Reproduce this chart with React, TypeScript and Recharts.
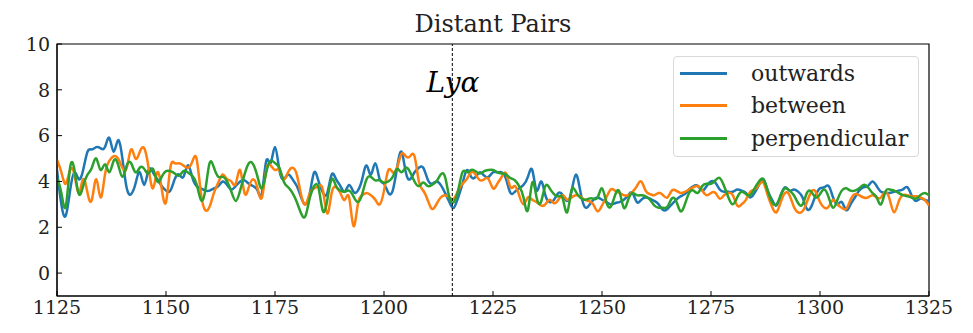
import React from 'react';
import {
  LineChart,
  Line,
  XAxis,
  YAxis,
  ReferenceLine,
  ReferenceArea,
  ReferenceDot,
} from 'recharts';

// rest-frame wavelength grid, 1 Å steps from 1125 to 1325
const startWavelength = 1125;

const outwards = [
  4.5, 3.0, 2.5, 3.6, 4.4, 4.1, 4.5, 5.3, 5.4, 5.5,
  5.45, 5.5, 5.9, 5.3, 5.8, 5.0, 3.7, 3.45, 3.9, 4.4,
  3.85, 4.5, 4.4, 4.1, 3.8, 3.6, 3.6, 4.1, 4.3, 4.2,
  4.7, 4.2, 3.8, 3.7, 3.6, 3.6, 3.7, 3.8, 4.0, 3.85,
  3.65, 3.8, 4.0, 4.05, 3.9, 3.8, 3.6, 3.5, 4.9, 4.8,
  5.5, 4.5, 4.1, 4.3, 4.1, 3.8, 3.3, 3.0, 3.5, 4.4,
  4.0, 3.5, 3.5, 4.3, 4.1, 3.8, 3.55, 3.85, 3.55, 3.6,
  4.1, 4.7, 4.3, 4.8, 4.1, 3.9, 3.5, 3.6, 4.6, 5.3,
  4.4, 4.1, 4.4, 4.6, 4.6, 4.1, 3.9, 4.0, 3.85, 3.5,
  3.1, 2.85, 3.3, 3.9, 4.5, 4.2, 4.2, 4.4, 4.25, 4.2,
  4.4, 4.4, 4.4, 4.1, 3.5, 3.55, 3.7, 3.85, 4.2, 4.5,
  3.6, 4.0, 3.4, 3.1, 3.2, 3.5, 3.4, 3.15, 3.55, 4.3,
  3.6, 2.9, 2.95, 3.2, 3.3, 3.2, 3.1, 3.0, 3.05, 3.1,
  3.2, 3.4, 3.5, 3.1, 3.2, 3.3, 3.25, 3.15, 3.0, 2.75,
  2.8, 3.0, 3.2, 3.35, 3.45, 3.65, 3.8, 3.8, 3.6, 3.8,
  4.0, 3.95, 3.65, 3.55, 3.55, 3.55, 3.65, 3.6, 3.5, 3.3,
  3.5, 3.85, 4.1, 3.6, 3.2, 2.95, 3.4, 3.75, 3.6, 3.65,
  3.55, 3.3, 2.8, 2.9, 3.4, 3.7, 3.75, 3.8, 3.3, 3.0,
  3.1, 2.75, 3.0, 3.3, 3.6, 3.75, 3.8, 4.0, 3.8, 3.55,
  3.5, 3.5, 3.55, 3.6, 3.65, 3.75, 3.4, 3.15, 3.25, 3.2,
  3.15,
];

const between = [
  4.95, 4.4, 3.9, 4.5, 4.3, 3.5, 4.1, 3.5, 3.2, 4.1,
  3.3, 4.3, 4.9, 5.1, 5.0, 4.6, 4.6, 5.4, 5.0, 5.3,
  5.45, 4.6, 3.7, 4.4, 3.7, 3.1, 4.6, 4.8, 4.8, 4.7,
  4.6, 4.85, 5.0, 3.5, 2.75, 2.9, 3.5, 3.95, 4.3, 4.1,
  4.0, 3.9, 4.5, 3.5, 3.75, 4.1, 3.7, 3.3, 4.5, 4.7,
  4.5, 4.5, 4.1, 4.4, 4.6, 4.3, 3.4, 3.0, 3.5, 3.7,
  3.8, 3.6, 2.6, 3.5, 3.75, 3.5, 3.2, 3.3, 2.05, 3.0,
  3.4, 3.5, 3.4, 3.2, 3.0, 3.6, 4.5, 4.4, 4.6, 5.2,
  5.1, 5.1, 5.1, 4.0, 3.6, 3.2, 2.8, 3.0, 3.3, 3.4,
  3.3, 3.25, 3.6, 3.9, 4.1, 4.4, 4.3, 4.05, 4.1, 4.1,
  3.7, 3.9, 4.2, 4.35, 3.75, 3.8, 3.4, 3.0, 3.3, 3.2,
  3.1, 2.95, 3.0, 3.2, 3.05, 3.2, 3.4, 3.2, 3.3, 3.4,
  3.35, 3.2, 3.15, 3.0, 2.7, 2.95, 3.3, 3.65, 3.6, 3.5,
  3.4, 3.4, 3.55, 3.8, 4.0, 3.6, 3.45, 3.4, 3.5, 3.4,
  3.3, 3.6, 3.6, 3.5, 3.55, 3.65, 3.75, 3.8, 3.6, 3.4,
  3.5, 3.5, 3.25, 3.4, 3.5, 3.4, 2.95, 3.0, 3.2, 3.55,
  3.65, 3.85, 3.95, 3.4, 2.9, 2.65, 3.1, 3.5, 3.4, 2.9,
  2.65, 2.7, 3.1, 3.55, 3.55, 3.1, 2.85, 2.9, 3.2, 3.0,
  2.85, 2.8, 3.2, 3.45, 3.4, 3.3, 3.3, 3.4, 3.3, 3.3,
  3.55, 3.2, 2.65, 3.1, 3.4, 3.4, 3.35, 3.35, 3.3, 3.2,
  2.95,
];

const perpendicular = [
  4.15, 3.5, 2.9, 4.6, 4.5, 3.45, 3.8, 4.3, 4.6, 5.0,
  4.5, 4.75, 4.4, 4.9, 4.75, 4.2, 4.7, 4.8, 4.4, 4.6,
  4.55, 4.35, 4.55, 4.0, 4.2, 4.45, 4.45, 4.35, 4.25, 4.45,
  4.4, 4.25, 3.9, 3.2, 3.6, 4.8, 4.6, 4.2, 4.2, 4.0,
  3.55, 3.15, 3.6, 4.3, 4.8, 4.75, 4.2, 3.7, 4.4, 4.9,
  4.8, 4.6, 4.0, 3.75, 3.5, 3.1, 2.6, 2.5, 3.3, 3.8,
  3.7, 2.7, 3.2, 4.1, 3.8, 3.6, 3.55, 3.6, 3.35, 3.1,
  3.45, 4.1, 4.2, 4.05, 4.05, 3.95, 4.0, 4.2, 4.55, 4.4,
  4.6, 4.4, 4.0, 3.8, 3.95, 3.8, 3.85, 4.0, 4.3, 4.2,
  3.3, 3.1, 3.6, 4.4, 4.4, 4.5, 4.45, 4.35, 4.45, 4.5,
  4.5, 4.4, 4.35, 4.3, 4.15, 4.05, 3.8, 3.3, 2.75, 3.95,
  3.3, 3.1, 3.8, 3.7, 3.45, 3.35, 3.25, 2.65, 3.6, 3.55,
  3.3, 3.2, 3.25, 3.25, 3.3, 3.7, 3.1, 2.9, 3.4, 3.55,
  2.85, 3.2, 3.5, 3.4, 3.4, 3.35, 3.2, 2.95, 2.85, 2.85,
  2.9, 3.25, 3.15, 2.7, 3.0, 3.5, 3.6, 3.5, 3.8, 3.9,
  3.9, 4.05, 4.15, 3.8, 3.3, 3.0, 3.3, 3.55, 3.45, 3.4,
  3.7, 4.0, 4.1, 3.6, 3.1, 3.0, 3.4, 3.7, 3.6, 3.4,
  3.05, 3.0, 3.5, 3.55, 3.3, 3.45, 3.65, 3.3, 2.85, 3.2,
  3.6, 3.7, 3.6, 3.6, 3.7, 3.85, 3.75, 3.5, 3.3, 3.0,
  3.55, 3.65, 3.6, 3.5, 3.4, 3.35, 3.3, 3.25, 3.4, 3.5,
  3.4,
];

const xTicks = [1125, 1150, 1175, 1200, 1225, 1250, 1275, 1300, 1325];
const yTicks = [0, 2, 4, 6, 8, 10];
const lyaWavelength = 1215.67;

const seriesNames = ['outwards', 'between', 'perpendicular'];
const colors = ['#1f77b4', '#ff7f0e', '#2ca02c'];

const FONT = '"DejaVu Serif", serif';

const data = outwards.map((v, i) => ({
  x: startWavelength + i,
  outwards: v,
  between: between[i],
  perpendicular: perpendicular[i],
}));

function LegendBox() {
  return (
    <div
      style={{
        position: 'absolute',
        left: 673,
        top: 56,
        width: 246,
        height: 101,
        border: '1px solid #d9d9d9',
        borderRadius: 4,
        background: 'rgba(255,255,255,0.85)',
        boxSizing: 'border-box',
        paddingTop: 0,
        fontFamily: FONT,
        fontSize: 22,
        color: '#222',
      }}
    >
      {seriesNames.map((name, i) => (
        <div
          key={name}
          style={{ display: 'flex', alignItems: 'center', height: 32.5 }}
        >
          <div
            style={{
              width: 47,
              height: 3,
              background: colors[i],
              marginLeft: 6,
              marginRight: 24,
            }}
          />
          <span>{name}</span>
        </div>
      ))}
    </div>
  );
}

export default function App() {
  return (
    <div style={{ position: 'absolute', left: 0, top: 0, width: 973, height: 333 }}>
      <LineChart
        width={973}
        height={333}
        data={data}
        margin={{ top: 44, right: 44, bottom: 7, left: 7 }}
      >
        <text
          x={493}
          y={32}
          textAnchor="middle"
          fontFamily={FONT}
          fontSize={24}
          fill="#222"
        >
          Distant Pairs
        </text>
        <XAxis
          dataKey="x"
          type="number"
          domain={[1125, 1325]}
          ticks={xTicks}
          allowDataOverflow
          height={30}
          stroke="#000"
          tickSize={-5}
          tickMargin={10}
          tick={{ fontFamily: FONT, fontSize: 19, fill: '#222' }}
        />
        <YAxis
          type="number"
          domain={[-1, 10]}
          ticks={yTicks}
          allowDataOverflow
          width={50}
          stroke="#000"
          tickSize={-5}
          tickMargin={12}
          tick={{ fontFamily: FONT, fontSize: 19, fill: '#222' }}
        />
        <ReferenceArea
          x1={1125}
          x2={1325}
          y1={-1}
          y2={10}
          fill="none"
          stroke="#000"
          strokeWidth={1.2}
        />
        {seriesNames.map((name, i) => (
          <Line
            key={name}
            dataKey={name}
            type="natural"
            stroke={colors[i]}
            strokeWidth={2.5}
            dot={false}
            isAnimationActive={false}
          />
        ))}
        <ReferenceLine
          x={lyaWavelength}
          stroke="#000"
          strokeWidth={1}
          strokeDasharray="3 2"
        />
        <ReferenceDot
          x={1210}
          y={8}
          r={1}
          fill="none"
          stroke="none"
          label={(props: any) => (
            <text
              x={props.viewBox.x}
              y={props.viewBox.y + 3}
              fontFamily={FONT}
              fontStyle="italic"
              fontSize={28}
              fill="#000"
            >
              Lyα
            </text>
          )}
        />
      </LineChart>
      <LegendBox />
    </div>
  );
}
